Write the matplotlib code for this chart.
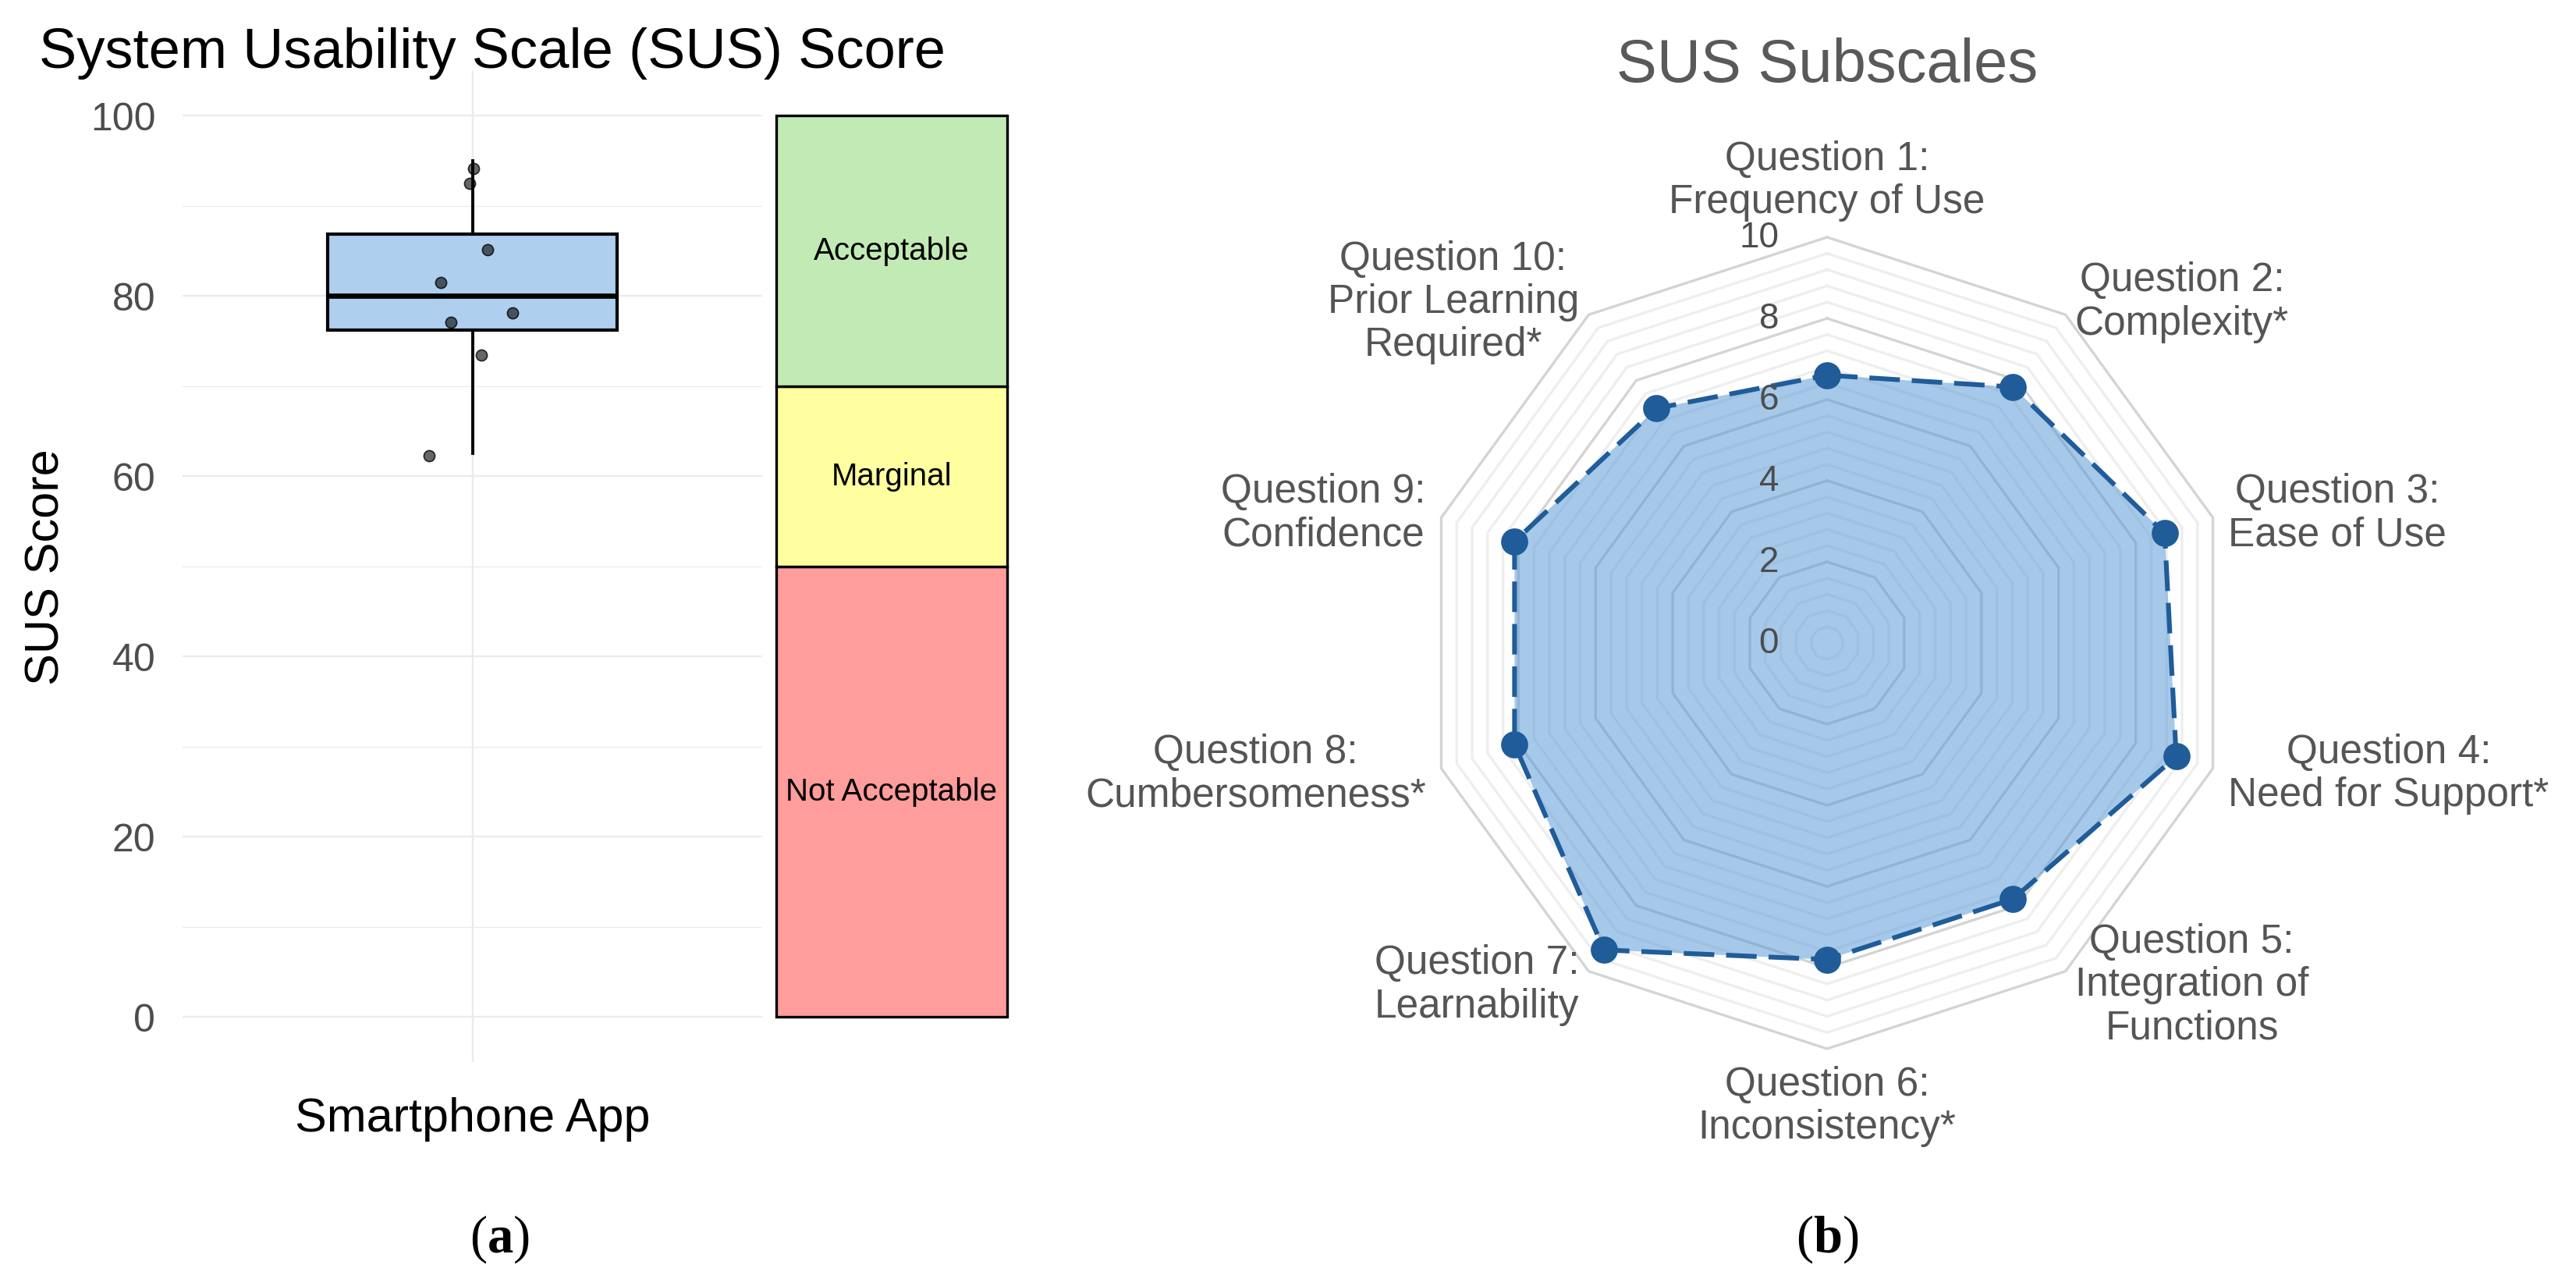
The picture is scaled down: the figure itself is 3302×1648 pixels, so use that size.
import matplotlib
matplotlib.use("Agg")
import matplotlib.pyplot as plt
import numpy as np

plt.rcParams['font.family'] = ['Liberation Sans', 'DejaVu Sans']
plt.rcParams['mathtext.fontset'] = 'custom'
plt.rcParams['mathtext.rm'] = 'Liberation Serif'
plt.rcParams['mathtext.bf'] = 'Liberation Serif:bold'

# --- panel (a): SUS score box plot ---
group_label = 'Smartphone App'
sus_scores = [95, 92.5, 85, 82.5, 77.5, 77.5, 72.5, 62.5]
jitter_x = [0.003, -0.005, 0.032, -0.066, 0.083, -0.044, 0.019, -0.09]
jitter_y = [-0.9, 0.0, 0.1, -1.0, 0.6, -0.4, 0.9, -0.2]
band_names = ['Not Acceptable', 'Marginal', 'Acceptable']
band_low = [0, 50, 70]
band_high = [50, 70, 100]
band_colors = ['#ff9c9c', '#ffffa0', '#c2eab5']

# --- panel (b): SUS subscales radar ---
questions = ['Question 1:\nFrequency of Use', 'Question 2:\nComplexity*',
             'Question 3:\nEase of Use', 'Question 4:\nNeed for Support*',
             'Question 5:\nIntegration of\nFunctions', 'Question 6:\nInconsistency*',
             'Question 7:\nLearnability', 'Question 8:\nCumbersomeness*',
             'Question 9:\nConfidence', 'Question 10:\nPrior Learning\nRequired*']
subscale_means = [6.6, 7.8, 8.75, 9.05, 7.8, 7.8, 9.35, 8.1, 8.1, 7.15]
radial_ticks = [0, 2, 4, 6, 8, 10]

W, H = 3302, 1649
dpi = 200
fig = plt.figure(figsize=(W / dpi, H / dpi), dpi=dpi)


def px_box(x0, y0, x1, y1):
    return [x0 / W, 1 - y1 / H, (x1 - x0) / W, (y1 - y0) / H]


# ---------------- left panel ----------------
ax = fig.add_axes(px_box(234, 91.5, 977, 1362))
ax.boxplot([sus_scores], positions=[1], widths=0.6, patch_artist=True,
           showfliers=False, showcaps=False, whis=1.5,
           boxprops=dict(facecolor='#aecfee', edgecolor='black', linewidth=1.5),
           medianprops=dict(color='black', linewidth=2.4),
           whiskerprops=dict(color='black', linewidth=1.4))
ax.scatter(1 + np.array(jitter_x), np.array(sus_scores) + np.array(jitter_y),
           s=26, facecolor=(0, 0, 0, 0.6), edgecolor=(0, 0, 0, 0.8),
           linewidth=0.6, zorder=3)

band_x = 1.868
band_w = 0.478
heights = np.array(band_high) - np.array(band_low)
ax.bar([band_x] * len(band_names), heights, bottom=band_low, width=band_w,
       color=band_colors, edgecolor='black', linewidth=1.2, clip_on=False)
for name, lo, hi in zip(band_names, band_low, band_high):
    ax.text(band_x, (lo + hi) / 2, name, ha='center', va='center',
            fontsize=14.5, color='black', clip_on=False)

ax.set_xlim(0.4, 1.6)
ax.set_ylim(-5, 105)
for s in ax.spines.values():
    s.set_visible(False)
ax.set_yticks(range(0, 101, 20))
ax.set_yticks(range(10, 100, 20), minor=True)
ax.set_xticks([1])
ax.set_xticklabels([group_label], fontsize=22, color='black')
ax.grid(True, which='major', color='#ebebeb', lw=0.85)
ax.grid(True, which='minor', axis='y', color='#ebebeb', lw=0.45)
ax.set_axisbelow(True)
ax.tick_params(which='both', length=0)
ax.tick_params(axis='y', labelsize=18, labelcolor='#4d4d4d', pad=12.5)
ax.tick_params(axis='x', pad=16)
ax.set_ylabel('SUS Score', fontsize=22, color='black')
ax.yaxis.set_label_coords((88 - 234) / 743, 0.5)

fig.text(50 / W, 1 - 87 / H, 'System Usability Scale (SUS) Score',
         ha='left', va='baseline', fontsize=26, color='black')

# ---------------- right panel ----------------
unit = 52.0
rax = fig.add_axes(px_box(1560, 125, 3124, 1525))
rax.set_xlim(-782 / unit, 782 / unit)
rax.set_ylim(-700 / unit, 700 / unit)
rax.axis('off')

n = len(questions)
theta = np.arange(n) * 2 * np.pi / n
sx, cy = np.sin(theta), np.cos(theta)

for i in range(1, 26):
    lev = i * 0.4
    col = '#d4d4d4' if i % 5 == 0 else '#eeeeee'
    rax.plot(np.append(lev * sx, lev * sx[0]), np.append(lev * cy, lev * cy[0]),
             color=col, lw=1.2, zorder=1, solid_joinstyle='miter')

vals = np.array(subscale_means)
vx, vy = vals * sx, vals * cy
rax.fill(vx, vy, color='#5797d7', alpha=0.53, lw=0, zorder=2)
rax.plot(np.append(vx, vx[0]), np.append(vy, vy[0]), color='#1f5c99', lw=2.2,
         ls=(0, (6.4, 2.5)), zorder=3)
rax.plot(vx, vy, 'o', ms=11.5, color='#1f5c99', zorder=4)

for t in radial_ticks:
    rax.text(-62 / unit, t, str(t), ha='right', va='center', fontsize=16.5,
             color='#4d4d4d', zorder=5)

label_r = 10.4
for q, s, c in zip(questions, sx, cy):
    if abs(s) < 1e-6:
        ha, va = 'center', ('bottom' if c > 0 else 'top')
    else:
        ha, va = ('left' if s > 0 else 'right'), 'center'
    rax.text(label_r * s, label_r * c, q, ha=ha, va=va, multialignment='center',
             fontsize=18.5, color='#555555', linespacing=1.17, zorder=5)

fig.text(2342 / W, 1 - 105 / H, 'SUS Subscales', ha='center', va='baseline',
         fontsize=28, color='#595959')

# panel letters
fig.text(640 / W, 1 - 1588 / H, r'($\mathbf{a}$)', ha='center', va='center',
         fontsize=24, family='Liberation Serif')
fig.text(2342 / W, 1 - 1588 / H, r'($\mathbf{b}$)', ha='center', va='center',
         fontsize=24, family='Liberation Serif')

fig.savefig('out.png', dpi=dpi)
